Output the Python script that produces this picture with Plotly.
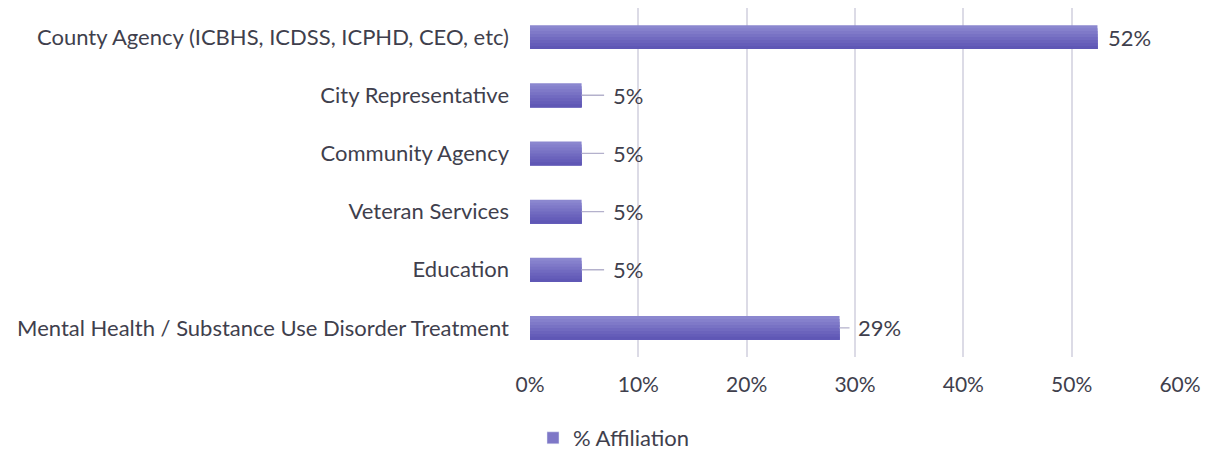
import plotly.graph_objects as go

# Data (bottom to top, like the source chart)
categories = [
    "Mental Health / Substance Use Disorder Treatment",
    "Education",
    "Veteran Services",
    "Community Agency",
    "City Representative",
    "County Agency (ICBHS, ICDSS, ICPHD, CEO, etc)",
]
values = [6/21, 1/21, 1/21, 1/21, 1/21, 11/21]
labels = ["29%", "5%", "5%", "5%", "5%", "52%"]
series_name = "% Affiliation"

# Styles
label_offsets = [40, 46, 46, 46, 46, 32]   # px from bar end to label centre
label_leader = [True, True, True, True, True, False]
grad_colors = ["#8b87cf", "#8580cc", "#7f79c8", "#7872c4", "#716ac0",
               "#6b63bc", "#655db9", "#5f57b5"]
BAR_W = 0.41
FONT = "Lato, 'Open Sans', sans-serif"
TXT = "#3f3f4d"
FS = 22

# the page body adds an 8px margin, so the figure is 8px smaller than the window
W, H = 1203, 446
L, R, T, B = 522, 31, 0, 97

fig = go.Figure()
n = len(grad_colors)
for i, c in enumerate(grad_colors):
    w = BAR_W * (n - i) / n
    fig.add_trace(go.Bar(
        x=values, y=categories, orientation="h",
        base=0, offset=-BAR_W / 2, width=w,
        marker=dict(color=c, line=dict(width=0)),
        showlegend=False, hoverinfo="skip",
    ))
fig.add_trace(go.Bar(
    x=[None], y=[None], orientation="h", name=series_name,
    marker=dict(color="#7e77c7"), showlegend=True,
))

for v, cat, lab, off, lead in zip(values, categories, labels, label_offsets, label_leader):
    if lead:
        fig.add_annotation(
            x=v, y=cat, xref="x", yref="y", text=lab,
            showarrow=True, arrowhead=0, arrowwidth=1.3, arrowcolor="#b4b1cc",
            ax=off, ay=0, startstandoff=7,
            font=dict(family=FONT, size=FS, color=TXT),
        )
    else:
        fig.add_annotation(
            x=v, y=cat, xref="x", yref="y", text=lab,
            showarrow=False, xanchor="center", xshift=off,
            font=dict(family=FONT, size=FS, color=TXT),
        )

plot_h = H - T - B
fig.update_layout(
    width=W, height=H,
    margin=dict(l=L, r=R, t=T, b=B, autoexpand=False),
    paper_bgcolor="white", plot_bgcolor="white",
    barmode="overlay",
    font=dict(family=FONT, size=FS, color=TXT),
    showlegend=True,
    legend=dict(
        orientation="h", x=(606 - L) / (W - L - R), xanchor="center",
        y=-(430 - (H - B)) / plot_h, yanchor="middle",
        font=dict(size=FS, color=TXT),
        itemwidth=30, traceorder="normal",
    ),
    xaxis=dict(
        range=[0, 0.6], dtick=0.1, tickformat=".0%",
        showgrid=True, gridcolor="#dcdbe6", gridwidth=2,
        zeroline=False, showline=False, automargin=False,
        ticklabelstandoff=13,
        tickfont=dict(size=21, color=TXT),
    ),
    yaxis=dict(
        categoryorder="array", categoryarray=categories,
        showgrid=False, zeroline=False, showline=False, automargin=False,
        ticklabelstandoff=20,
        tickfont=dict(size=FS, color=TXT),
    ),
)

fig.write_html("out.html")
